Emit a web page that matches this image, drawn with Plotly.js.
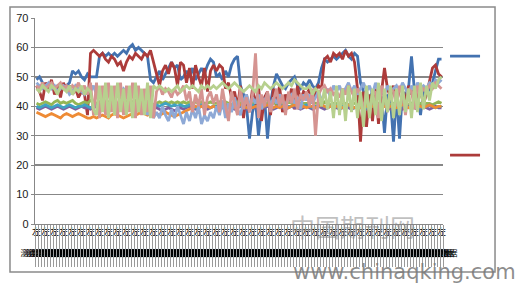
<!DOCTYPE html>
<html>
<head>
<meta charset="utf-8">
<script src="https://cdn.plot.ly/plotly-3.0.1.min.js"></script>
<style>html,body{margin:0;padding:0;background:#fff;}#chart{width:518px;height:283px;}</style>
</head>
<body>
<div id="chart"></div>
<script>
// ---- data ----
const N = 136;
const categories = [];
for (let i = 1; i <= N; i++) categories.push('左' + i);
const topLabel = '左';
const bottomLabel = '测点数据';

const seriesBlue = [
49,50,48,47,46,47,46,47,46,47,
47,48,52,51,52,50,49,51,50,50,
50,57,58,57,58,57,58,57,58,59,
58,60,61,59,60,59,58,57,49,48,
50,52,49,51,53,55,53,54,49,50,
52,50,53,49,51,53,51,54,56,55,
50,51,49,52,50,54,56,57,47,44,
40,29,38,42,30,39,43,29,41,47,
51,49,47,46,48,49,50,47,46,48,
47,49,47,46,48,53,56,55,56,57,
56,57,58,59,57,56,58,57,48,45,
44,43,45,42,44,43,31,44,42,28,
44,29,45,44,46,57,45,44,37,45,
44,46,48,52,56,56];

const seriesRed = [
47,45,42,48,46,49,44,47,43,48,
45,47,44,46,43,45,44,37,58,59,
58,57,58,56,55,57,56,54,55,52,
55,57,56,58,57,56,58,57,59,55,
50,47,52,54,51,55,53,47,55,54,
48,53,46,54,50,47,53,45,52,54,
52,54,53,46,48,43,45,40,47,36,
44,38,46,40,47,35,43,45,37,46,
40,47,38,44,41,46,39,47,42,45,
44,46,41,45,47,46,56,57,55,58,
57,58,56,59,57,58,55,46,28,45,
33,44,35,46,34,45,53,46,43,47,
41,46,45,42,47,44,46,43,45,41,
44,49,53,54,51,50];

const seriesGreen = [
41,40.5,41,41.5,41,40.5,41.5,42,41,41.5,
41,41.5,42,41,40.5,41,41.5,41,42,41.5,
41,41.5,40.5,41,41.5,41,41.5,41,40.5,41,
41.5,41,41.5,42,41,41.5,41,41.5,41,40.5,
41,41.5,41,41.5,41,41.5,41,41.5,41,41.5,
41,41.5,41,41.5,41,41.5,41,41,41.5,41,
41,41.5,41,41.5,41,40.5,41,41.5,41,41,
41.5,41,41,41.5,41,41.5,41,41,41.5,41,
41,41.5,41,41,41.5,41,41,41.5,41,41,
41,41,41.5,41,41,41,41.5,41,40.5,41,
41,40.5,41,41,40.5,41,41,40.5,41,40.5,
41,40.5,41,40.5,41,40.5,41,41,40.5,41,
41,40.5,41,41,40.5,41,41.5,41,41,40.5,
41,41,40.5,41,41.5,41];

const seriesPurple = [
39.5,39,39.5,40,39.5,39,39.5,40,39.5,39,
39.5,40,39.5,39,39.5,40,39.5,39.5,39,39.5,
40,39.5,39,39.5,40,39.5,39,39.5,40,39.5,
39,39.5,40,39.5,39,39.5,40,39.5,39,39.5,
39.5,39,38.5,39,39.5,39,38.5,39,39.5,39,
39.5,40,39.5,39,39.5,40,39.5,39,39.5,40,
39.5,39,39.5,40,39.5,39.5,39,39.5,40,39.5,
39,39.5,40,39.5,39,39.5,39.5,40,39.5,39,
39.5,40,39.5,39,39.5,40,39.5,39.5,39,39.5,
40,39.5,39,39.5,40,39.5,39,39.5,40,39.5,
39.5,39,39.5,40,39.5,39,39.5,40,39.5,39.5,
39,39.5,40,39.5,39,39.5,40,39.5,39,39.5,
40,39.5,39,39.5,40,39.5,39.5,39,39.5,40,
39.5,39,39.5,40,39.5,39.5];

const seriesTeal = [
40,39.5,40,40.5,40,39.5,40,40.5,40,39.5,
40,40.5,40,39.5,40,40,40.5,40,39.5,40,
40.5,40,39.5,40,40.5,40,39.5,40,40,40.5,
40,39.5,40,40.5,40,39.5,40,40.5,40,40,
40.5,40,40.5,41,40.5,40,40.5,40,40.5,40,
40,40.5,40,39.5,40,40.5,40,40,39.5,40,
40,39.5,40,40.5,40,39.5,40,40,40.5,40,
39.5,40,40.5,40,39.5,40,40,40.5,40,39.5,
40,40.5,40,39.5,40,40,40.5,40,39.5,40,
40.5,40,39.5,40,40,40.5,40,39.5,40,40.5,
40,39.5,40,40,40.5,40,39.5,40,40.5,40,
39.5,40,40,40.5,40,39.5,40,40.5,40,39.5,
40,40,40.5,40,39.5,40,40.5,40,39.5,40,
40,40.5,40,39.5,40,40];

const seriesOrange = [
38,37.5,37,36.5,37,37.5,37,36.5,36,37,
37.5,37,36.5,37,37.5,37,36.5,36,36,36.5,
36,36.5,37,36.5,36,37,37.5,37,36.5,36,
36.5,37,37.5,37,37.5,38,37.5,37,37.5,38,
37.5,37,37.5,38,37.5,37,36.5,37,37.5,38,
38.5,39,39.5,40,39.5,40,39.5,40,39.5,40,
39.5,40,40.5,40,39.5,40,39.5,40,40.5,40,
39.5,40,39.5,40,40,39.5,40,40.5,40,39.5,
40,39.5,40,40,39.5,40,40.5,40,39.5,40,
39.5,40,40,39.5,40,40.5,40,39.5,40,39.5,
40,40,39.5,40,40.5,40,39.5,40,39.5,40,
40,39.5,40,40.5,40,39.5,40,39.5,40,40,
39.5,40,40.5,40,39.5,40,39.5,40,40,39.5,
40,40.5,40,39.5,40,40];

const seriesLightBlue = [
48,47,46,47,48,46,47,45,46,47,
46,44,45,47,46,45,44,46,45,47,
44,46,45,43,46,44,45,47,44,46,
45,44,46,43,45,38,44,37,42,36,
38,36,40,37,35,39,36,40,37,34,
38,35,39,36,40,34,37,35,38,36,
40,37,42,36,41,38,43,39,37,42,
44,40,43,41,44,39,42,44,40,43,
41,44,42,40,43,44,41,43,39,44,
42,44,41,43,45,42,44,46,43,47,
45,47,44,46,48,45,47,44,46,48,
45,47,44,48,45,46,44,47,45,46,
47,45,48,46,44,47,45,48,46,47,
46,48,47,49,48,49];

const seriesPink = [
47,46,48,46,47,48,46,47,48,46,
47,45,47,46,48,45,47,44,48,37,
48,36,47,37,48,38,47,36,48,37,
47,38,48,36,47,37,46,38,47,36,
45,47,44,46,45,43,46,44,45,47,
42,45,38,44,40,46,37,43,45,41,
44,38,46,40,35,45,41,37,46,39,
43,38,44,58,36,44,40,45,38,42,
46,40,44,37,45,41,46,39,44,42,
45,40,46,30,44,46,47,45,46,44,
45,43,46,44,47,45,43,46,44,38,
46,37,44,45,36,47,44,38,46,45,
40,47,44,37,46,45,39,47,44,46,
45,47,46,48,47,46];

const seriesLightGreen = [
46,45,47,46,45,47,46,44,47,46,
45,47,44,46,45,47,44,46,45,39,
37,47,38,48,36,47,37,48,38,46,
37,47,36,48,38,46,37,48,36,47,
46,47,46,45,46,45,46,47,45,46,
47,46,47,46,45,47,46,47,46,47,
46,47,48,47,46,47,48,47,46,45,
46,47,46,45,47,46,48,47,46,47,
48,47,46,47,48,47,49,48,47,46,
46,47,44,46,45,40,46,39,45,36,
47,37,46,35,47,38,46,36,45,33,
47,36,46,37,48,35,46,38,47,36,
46,37,47,38,46,36,47,38,48,39,
47,42,48,46,49,50];

const seriesNames = [' ', ' ', ' ', ' ', ' ', ' ', ' ', ' ', ' '];
const seriesColors = ['#4372B0', '#AC3B3A', '#94B655', '#7D5FA0', '#3FA3C1', '#EE8B35', '#8EA9D6', '#D59491', '#B7D08E'];
const seriesData = [seriesBlue, seriesRed, seriesGreen, seriesPurple, seriesTeal, seriesOrange, seriesLightBlue, seriesPink, seriesLightGreen];

// ---- traces ----
const traces = seriesData.map((ys, k) => ({
  type: 'scatter', mode: 'lines',
  x: categories, y: ys,
  name: seriesNames[k],
  line: {color: seriesColors[k], width: 2.8},
  showlegend: k < 2,
  legendgroup: 'g' + k,
  hoverinfo: 'skip'
}));
// helper trace to carry the long category divider ticks
traces.push({type: 'scatter', x: [], y: [], xaxis: 'x2', showlegend: false, hoverinfo: 'skip'});

const ticktext = categories.map((c, i) =>
  (i % 3 === 0 ? '<span style="font-size:9px">' + topLabel + '</span>' : ' ') + '<br><br>' + bottomLabel);

const gray = '#878787';
const layout = {
  width: 518, height: 283,
  margin: {l: 35, r: 75, t: 18, b: 59},
  paper_bgcolor: '#ffffff', plot_bgcolor: '#ffffff',
  font: {family: 'Liberation Sans, Arial, sans-serif', size: 11, color: '#1a1a1a'},
  xaxis: {
    type: 'category', range: [-0.5, N - 0.5],
    tickmode: 'array', tickvals: categories, ticktext: ticktext,
    tickangle: 0, ticks: '', showgrid: false, zeroline: false,
    showline: true, linecolor: gray, linewidth: 1.3,
    tickfont: {family: 'Noto Sans CJK SC, sans-serif', size: 8, color: '#000'}
  },
  xaxis2: {
    overlaying: 'x', anchor: 'y', side: 'bottom',
    range: [-0.5, N - 0.5], tickmode: 'linear', tick0: -0.5, dtick: 1,
    ticks: 'outside', ticklen: 42, tickwidth: 1, tickcolor: '#9a9a9a',
    showticklabels: false, showgrid: false, zeroline: false, showline: false
  },
  yaxis: {
    range: [0, 70], dtick: 10, tick0: 0,
    gridcolor: gray, gridwidth: 1.3,
    showline: true, linecolor: gray, linewidth: 1.3,
    ticks: 'outside', ticklen: 3, tickcolor: gray,
    zeroline: false,
    tickfont: {family: 'Liberation Sans, Arial, sans-serif', size: 11, color: '#1a1a1a'}
  },
  legend: {
    x: 1.005, xanchor: 'left', y: 0.885, yanchor: 'top',
    traceorder: 'grouped', tracegroupgap: 80,
    bgcolor: 'rgba(0,0,0,0)', font: {size: 11}
  },
  shapes: [{
    type: 'rect', xref: 'paper', yref: 'paper',
    x0: -0.0613, x1: 1.1275, y0: -0.233, y1: 1.053,
    line: {color: '#8a8a8a', width: 1.5}, fillcolor: 'rgba(0,0,0,0)', layer: 'above'
  }],
  annotations: [
    {text: '中国期刊网', xref: 'paper', yref: 'paper', x: 0.777, y: -0.01,
     xanchor: 'center', yanchor: 'middle', showarrow: false,
     font: {family: 'Noto Sans CJK SC, sans-serif', size: 25, color: 'rgba(130,130,130,0.5)'}},
    {text: 'www.chinaqking.com', xref: 'paper', yref: 'paper', x: 0.905, y: -0.233,
     xanchor: 'center', yanchor: 'middle', showarrow: false,
     font: {family: 'DejaVu Sans, sans-serif', size: 21, color: 'rgba(120,120,120,0.85)'}}
  ]
};

Plotly.newPlot('chart', traces, layout, {staticPlot: true, displayModeBar: false});
</script>
</body>
</html>
